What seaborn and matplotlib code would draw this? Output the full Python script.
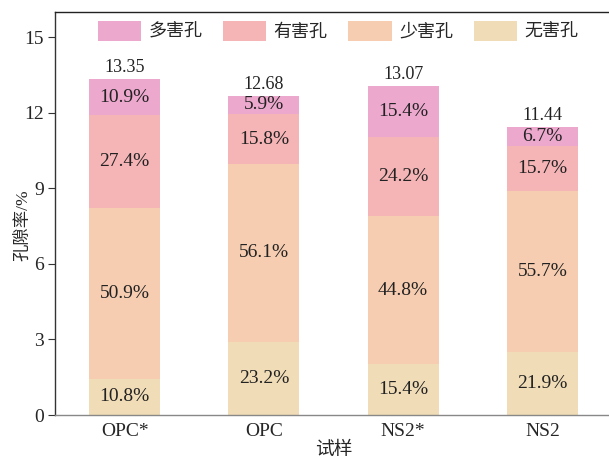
import numpy as np
import pandas as pd
import matplotlib
matplotlib.use("Agg")
import matplotlib.pyplot as plt
from matplotlib.patches import Patch
import seaborn as sns

samples = ["OPC*", "OPC", "NS2*", "NS2"]
totals = [13.35, 12.68, 13.07, 11.44]
# share of each pore class in the total porosity (%)
pct_none = [10.8, 23.2, 15.4, 21.9]     # 无害孔
pct_few = [50.9, 56.1, 44.8, 55.7]      # 少害孔
pct_harm = [27.4, 15.8, 24.2, 15.7]     # 有害孔
pct_many = [10.9, 5.9, 15.4, 6.7]       # 多害孔

labels = ["无害孔", "少害孔", "有害孔", "多害孔"]
colors = ["#F0DCB6", "#F7CDB1", "#F5B4B6", "#EDA8CE"]

sns.set_style("ticks")
plt.rcParams["font.family"] = ["Liberation Serif", "Noto Sans CJK SC"]
plt.rcParams["font.size"] = 13

pcts = np.array([pct_none, pct_few, pct_harm, pct_many])
tot = np.array(totals)
cum = tot * np.cumsum(pcts, axis=0) / pcts.sum(axis=0)

fig = plt.figure(figsize=(6.09, 4.65), dpi=100)
ax = fig.add_axes([55 / 609, 50 / 465, 557 / 609, 403 / 465])

# draw from top class down so lower segments overlap higher ones
for i in range(3, -1, -1):
    df = pd.DataFrame({"试样": samples, "值": cum[i]})
    sns.barplot(data=df, x="试样", y="值", color=colors[i], saturation=1,
                width=0.51, linewidth=0, ax=ax)

for j in range(len(samples)):
    lo = 0
    for i in range(4):
        hi = cum[i, j]
        ax.text(j, (lo + hi) / 2, f"{pcts[i, j]:.1f}%", ha="center", va="center",
                fontsize=14, color="#222222")
        lo = hi
    ax.annotate(f"{totals[j]:.2f}", (j, totals[j]), xytext=(0, 2),
                textcoords="offset points", ha="center", va="bottom",
                fontsize=13, color="#222222")

ax.set_xlim(-0.5, 3.5)
ax.set_ylim(0, 16)
ax.set_yticks([0, 3, 6, 9, 12, 15])
ax.set_xlabel("试样", fontsize=13.5, labelpad=1)
ax.set_ylabel("孔隙率/%", fontsize=12.5)
ax.yaxis.set_label_coords(-0.042, 0.47)
ax.tick_params(axis="x", length=0, pad=6, labelsize=14)
ax.tick_params(axis="y", length=5, width=0.8, labelsize=14, pad=3, color="#333333")

ax.spines["right"].set_visible(False)
ax.spines["top"].set_color("#222222")
ax.spines["left"].set_color("#333333")
ax.spines["bottom"].set_color("#888888")
for s in ["top", "left", "bottom"]:
    ax.spines[s].set_linewidth(1.0)

handles = [Patch(facecolor=colors[i], edgecolor="none", label=labels[i]) for i in range(3, -1, -1)]
ax.legend(handles=handles, loc="center", bbox_to_anchor=(0.508, 0.953), ncol=4,
          frameon=False, handlelength=2.4, handleheight=1.3, handletextpad=0.4,
          columnspacing=1.15, fontsize=13)

fig.savefig("out.png", dpi=100)
